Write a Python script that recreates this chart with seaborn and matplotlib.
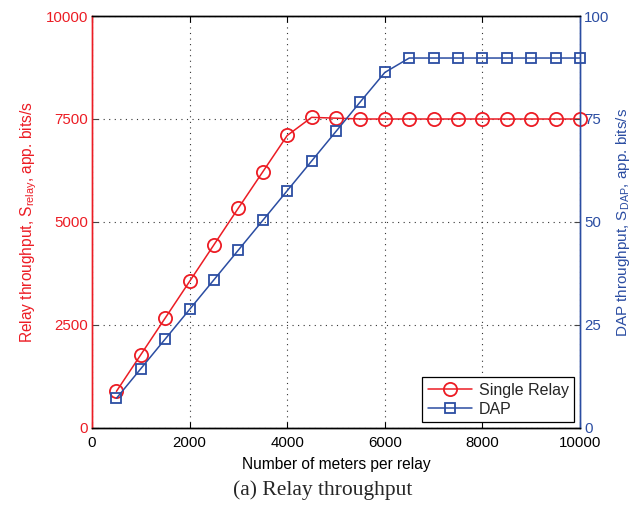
import numpy as np
import pandas as pd
import matplotlib
matplotlib.use('Agg')
import matplotlib.pyplot as plt
import seaborn as sns
from matplotlib.lines import Line2D

# Данные
meters = [500, 1000, 1500, 2000, 2500, 3000, 3500, 4000, 4500, 5000,
          5500, 6000, 6500, 7000, 7500, 8000, 8500, 9000, 9500, 10000]
single_relay = [890, 1780, 2670, 3560, 4450, 5340, 6220, 7100, 7540, 7520,
                7500, 7500, 7500, 7500, 7500, 7500, 7500, 7500, 7500, 7500]
dap = [7.2, 14.4, 21.6, 28.8, 36.0, 43.2, 50.4, 57.6, 64.8, 72.0,
       79.2, 86.3, 89.8, 89.8, 89.8, 89.8, 89.8, 89.8, 89.8, 89.8]

x_ticks = [0, 2000, 4000, 6000, 8000, 10000]
left_ticks = [0, 2500, 5000, 7500, 10000]
right_ticks = [0, 25, 50, 75, 100]

red = '#EC1C24'
blue = '#2B4DA2'

sns.set_theme(style='white')
plt.rcParams['font.family'] = ['Liberation Sans', 'DejaVu Sans']
plt.rcParams['font.size'] = 10.5
plt.rcParams['xtick.direction'] = 'in'
plt.rcParams['ytick.direction'] = 'in'

data = pd.DataFrame({'meters': meters, 'relay': single_relay, 'dap': dap})

fig = plt.figure(figsize=(6.36, 5.08), dpi=100)
ax = fig.add_axes([0.1447, 0.1575, 0.7673, 0.811])
ax2 = ax.twinx()

sns.lineplot(data=data, x='meters', y='relay', ax=ax, color=red, linewidth=1.1,
             marker='o', markersize=9.5, markerfacecolor='none', markeredgecolor=red,
             markeredgewidth=1.3, clip_on=False, zorder=3)
sns.lineplot(data=data, x='meters', y='dap', ax=ax2, color=blue, linewidth=1.1,
             marker='s', markersize=7.5, markerfacecolor='none', markeredgecolor=blue,
             markeredgewidth=1.3, clip_on=False, zorder=3)

ax.set_xlim(0, 10000)
ax.set_ylim(0, 10000)
ax2.set_ylim(0, 100)
ax.set_xticks(x_ticks)
ax.set_yticks(left_ticks)
ax2.set_yticks(right_ticks)
ax.set_xticklabels([str(t) for t in x_ticks], fontsize=10.8, color='black')
ax.set_yticklabels([str(t) for t in left_ticks], fontsize=10.8, color=red)
ax2.set_yticklabels([str(t) for t in right_ticks], fontsize=10.8, color=blue)

ax.tick_params(axis='x', top=True, bottom=True, length=4, width=0.8, colors='black', pad=6)
ax.tick_params(axis='y', left=True, right=False, length=4, width=0.8, color='#444444', labelcolor=red, pad=3)
ax2.tick_params(axis='y', right=True, left=False, length=4, width=0.8, color='#444444', labelcolor=blue, pad=3)

ax.grid(True, linestyle=(0, (1, 4)), color='#333333', linewidth=0.8)

for s in ['top', 'bottom']:
    ax.spines[s].set_color('black')
    ax2.spines[s].set_color('black')
ax.spines['left'].set_color(red)
ax2.spines['left'].set_color(red)
ax2.spines['right'].set_color(blue)
ax.spines['right'].set_color(blue)
for a in (ax, ax2):
    for s in a.spines.values():
        s.set_linewidth(1.0)

ax.set_xlabel('Number of meters per relay', fontsize=11.2, color='black', labelpad=5)
ax.set_ylabel(r'Relay throughput, $\mathregular{S_{relay}}$, app. bits/s',
              fontsize=11.2, color=red, labelpad=5)
ax2.set_ylabel(r'DAP throughput, $\mathregular{S_{DAP}}$, app. bits/s',
               fontsize=11, color=blue, labelpad=3)

handles = [Line2D([], [], color=red, marker='o', markersize=9.5, markerfacecolor='none',
                  markeredgewidth=1.3, linewidth=1.1),
           Line2D([], [], color=blue, marker='s', markersize=7.5, markerfacecolor='none',
                  markeredgewidth=1.3, linewidth=1.1)]
leg = ax2.legend(handles, ['Single Relay', 'DAP'], loc='lower right', fontsize=11.5,
                 frameon=True, fancybox=False, edgecolor='black', framealpha=1,
                 handlelength=2.8, borderpad=0.35, labelspacing=0.25,
                 borderaxespad=0.35, handletextpad=0.4)
leg.get_frame().set_linewidth(0.9)
if ax.get_legend() is not None:
    ax.get_legend().remove()

fig.text(0.507, 0.035, '(a) Relay throughput', ha='center', va='center',
         fontsize=15.5, family=['Liberation Serif', 'DejaVu Serif'])

fig.savefig('out.png', dpi=100)
